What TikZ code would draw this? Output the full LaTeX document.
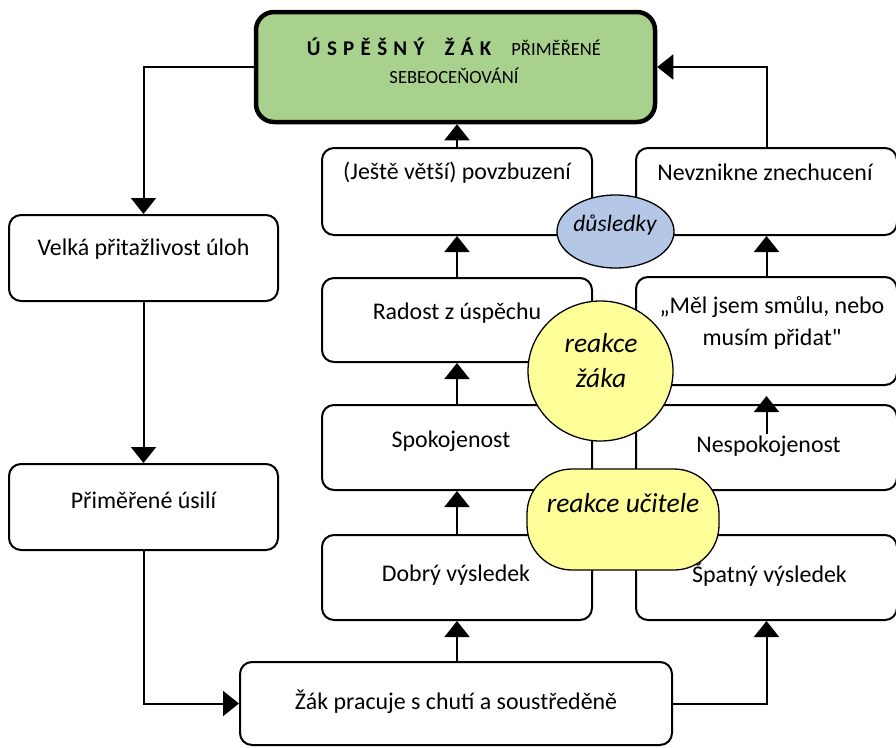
\documentclass[tikz,border=0pt]{standalone}
\usepackage{fontspec}
\setmainfont{Carlito}
\newfontfamily\qfont{Carlito}
\usetikzlibrary{arrows.meta,shapes.geometric,calc}
\definecolor{topgreen}{HTML}{A9D18E}
\definecolor{dusblue}{HTML}{B4C7E7}
\definecolor{reayellow}{HTML}{FFFF99}
\newcommand\lsp{\hspace{6.3pt}}
\begin{document}
\begin{tikzpicture}[x=1pt,y=-1pt,
  box/.style={draw, line width=2pt, rounded corners=12pt, fill=white, inner sep=0pt},
  txt/.style={font=\fontsize{23.9}{32}\selectfont, align=center, inner sep=0pt},
  itxt/.style={font=\fontsize{27.5}{35}\selectfont\itshape, align=center, inner sep=0pt},
  arr/.style={line width=2pt, -{Triangle[width=25pt,length=16pt]}},
  bubble/.style={draw, line width=1.3pt, inner sep=0pt}
  ]
\useasboundingbox (0,0) rectangle (896,747);
% boxes
\node[box, line width=4.5pt, rounded corners=18pt, fill=topgreen, minimum width=399pt, minimum height=110pt] (top) at (455.5,67) {};
\node[box, minimum width=269pt, minimum height=86pt] (vel) at (143.5,258) {};
\node[box, minimum width=269pt, minimum height=86pt] (pri) at (143.5,507) {};
\node[box, minimum width=432pt, minimum height=83pt] (zak) at (456,703.5) {};
\node[box, minimum width=270pt, minimum height=87pt] (pov) at (457,191.5) {};
\node[box, minimum width=270pt, minimum height=84pt] (rad) at (457,320) {};
\node[box, minimum width=270pt, minimum height=85pt] (spo) at (457,447.5) {};
\node[box, minimum width=270pt, minimum height=85pt] (dob) at (457,577.5) {};
\node[box, minimum width=261pt, minimum height=87pt] (nev) at (766.5,191.5) {};
\node[box, minimum width=261pt, minimum height=108pt] (mel) at (766.5,331) {};
\node[box, minimum width=261pt, minimum height=85pt] (nesp) at (766.5,447.5) {};
\node[box, minimum width=261pt, minimum height=85pt] (spa) at (766.5,577.5) {};
% texts
\node[inner sep=0pt, align=center, font=\fontsize{18.6}{28}\selectfont] (ttl) at (454,61)
  {{\bfseries\fontsize{21}{28}\selectfont Ú\lsp S\lsp P\lsp Ě\lsp Š\lsp N\lsp Ý\hspace{20pt}Ž\lsp Á\lsp K}\hspace{20pt}PŘIMĚŘENÉ\\SEBEOCEŇOVÁNÍ};
\node[txt] (velt) at (143.5,249) {Velká přitažlivost úloh};
\node[txt] (prit) at (143.5,500) {Přiměřené úsilí};
\node[txt] (zakt) at (456,702) {Žák pracuje s chutí a soustředěně};
\node[txt] (povt) at (457,173) {(Ještě větší) povzbuzení};
\node[txt] (radt) at (457,313) {Radost z úspěchu};
\node[txt] (spot) at (451,441) {Spokojenost};
\node[txt] (dobt) at (456,575) {Dobrý výsledek};
\node[txt] (nevt) at (765,172) {Nevznikne znechucení};
\node[txt] (melt) at (772,323) {„Měl jsem smůlu, nebo\\musím přidat{\qfont"}};
\node[txt] (nespt) at (768.5,446) {Nespokojenost};
\node[txt] (spat) at (769.5,575) {Špatný výsledek};
% connectors
\draw[arr] (top.west) -| (vel.north);
\draw[arr] (vel.south) -- (pri.north);
\draw[arr] (pri.south) |- (zak.west);
\draw[arr] (dob.south |- zak.north) -- (dob.south);
\draw[arr] (zak.east) -| (spa.south);
\draw[arr] (dob.north) -- (spo.south);
\draw[arr] (spo.north) -- (rad.south);
\draw[arr] (rad.north) -- (pov.south);
\draw[arr] (pov.north) -- (pov.north |- top.south);
\draw[arr] ($(nesp.north)+(0,30)$) -- ($(nesp.north)+(0,-8)$);
\draw[arr] (mel.north) -- (nev.south);
\draw[arr] (nev.north) |- (top.east);
% bubbles
\node[bubble, ellipse, fill=dusblue, minimum width=117pt, minimum height=73pt] (dus) at (615.5,231.5) {};
\node[itxt, font=\fontsize{23.5}{30}\selectfont\itshape] (dust) at (615,225) {důsledky};
\node[bubble, ellipse, fill=reayellow, minimum width=145pt, minimum height=140pt] (rea) at (600.5,371) {};
\node[itxt] (reat) at (601,360.5) {reakce\\žáka};
\node[bubble, rounded corners=45pt, fill=reayellow, minimum width=192pt, minimum height=101pt] (uci) at (623,519.5) {};
\node[itxt] (ucit) at (623,503) {reakce učitele};
\end{tikzpicture}
\end{document}
